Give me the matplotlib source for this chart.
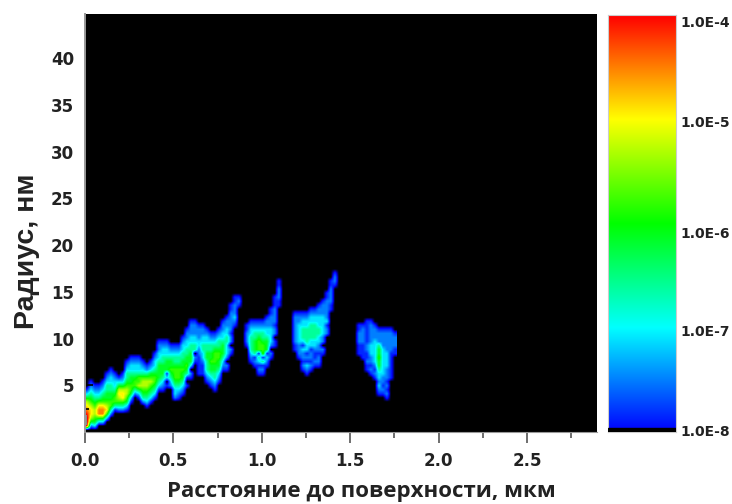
import numpy as np
import matplotlib
matplotlib.use("Agg")
import matplotlib.pyplot as plt
from matplotlib.colors import LinearSegmentedColormap
from matplotlib.ticker import MultipleLocator

plt.rcParams['font.family'] = ['DejaVu Sans']
plt.rcParams['font.weight'] = 'bold'

x_label = "Расстояние до поверхности, мкм"
y_label = "Радиус, нм"
x_ticks = [0.0, 0.5, 1.0, 1.5, 2.0, 2.5]
y_ticks = [5, 10, 15, 20, 25, 30, 35, 40]
bar_labels = ["1.0E-4", "1.0E-5", "1.0E-6", "1.0E-7", "1.0E-8"]
bar_label_logs = [-4.06, -5.02, -6.09, -7.03, -7.99]

# log10 concentration for each level character
level_values = {'1': -7.85, '2': -7.5, '3': -7.1, '4': -6.6, '5': -6.15, '6': -5.8,
                '7': -5.3, '8': -4.95, '9': -4.5, 'A': -4.1, 'B': -3.8}
background = -8.4

# Column-by-column reading of the map: radius cell where a column starts, and levels going down
n_rows = 41
first_row = [30, 28, 29, 29, 28, 26, 25, 26, 27, 26, 23, 22, 22, 22, 23, 24, 23, 21, 18, 18,
             18, 19, 19, 19, 17, 15, 13, 13, 14, 14, 15, 16, 16, 15, 13, 12, 9, 7, 7,
             0,
             14, 13, 13, 13, 13, 12, 10, 7, 3,
             0, 0, 0,
             11, 11, 11, 11, 10, 10, 9, 8, 6, 3, 1,
             0, 0, 0, 0, 0,
             14, 14, 13, 13, 14, 15, 15, 15, 15, 16]
levels = ["135789ABBA", "123456788752", "12345677653", "1234689963",
          "12345689963", "123445567863", "123344556642", "1233456641", "135787642",
          "1235788642", "1234456776531", "123345566531", "1233456642", "12334667531",
          "12346776542", "12467765431", "12356765431", "123345665431", "1223345555431",
          "1233445554321", "1233455513.1", "12345565432", "12344566654332", "12344566654321",
          "123344556554321", "1223344556541.1", "122233445553.21", "12223344.21",
          "1222332211111", "1223344332111", "12334455444321", "12344556554321",
          "123456665544321", "12344566554321", "1223345554321.", "12233443332.21",
          "1122222122.21", "11222321", "121",
          "",
          "112221", "12334444321", "123445554121", "12345666143121", "12344566614121",
          "1223345551321", "1122233332.21", "1112222122.11", "1122211",
          "", "", "",
          "1222222211", "122333332221", "123344431322121", "1233444433121321",
          "1233444433122121", "123344443321121", "1223334433221221", "12223333322.21",
          "11222223122", "11222211", "1221",
          "", "", "", "", "",
          "11222111", "122221111", "1111112211211", "12222233322121",
          "12223333332121", "12224556554332321", "12222333333322121",
          "122222333322212121", "1222221111111", "122211"]

cell_x = 0.02262
cell_y = 0.4283

grid = np.full((n_rows, len(levels)), background)
for col, (start, text) in enumerate(zip(first_row, levels)):
    for k, ch in enumerate(text):
        if ch != '.':
            grid[start + k, col] = level_values[ch]

rainbow = ["#0000ff", "#00ffff", "#00ff00", "#ffff00", "#ff0000"]
bar_cmap = LinearSegmentedColormap.from_list("rb", rainbow, N=512)
map_cmap = LinearSegmentedColormap.from_list(
    "map", [(0, "#000000"), (0.4 / 4.4, "#0000ff"), (1.4 / 4.4, "#00ffff"),
            (2.4 / 4.4, "#00ff00"), (3.4 / 4.4, "#ffff00"), (1, "#ff0000")], N=1024)
map_cmap.set_over("#8a8a8a")

W, H = 732, 504
fig = plt.figure(figsize=(W / 100, H / 100), dpi=100, facecolor="white")
ax = fig.add_axes([85 / W, 1 - 432 / H, (597 - 85) / W, (432 - 14) / H], facecolor="black")
ax.imshow(grid, extent=[0, cell_x * len(levels), 0, cell_y * n_rows], origin="upper",
          aspect="auto", cmap=map_cmap, vmin=-8.4, vmax=-4.0, interpolation="bilinear", zorder=1)
ax.set_xlim(0, 2.896)
ax.set_ylim(0, 44.75)
ax.set_xticks(x_ticks)
ax.set_xticklabels([f"{v:.1f}" for v in x_ticks])
ax.set_yticks(y_ticks)
ax.xaxis.set_minor_locator(MultipleLocator(0.25))
ax.yaxis.set_minor_locator(MultipleLocator(2.5))
ax.tick_params(axis="x", which="major", labelsize=12, length=8, width=1.2, color="#555555",
               pad=6.5, labelcolor="#222222")
ax.tick_params(axis="x", which="minor", length=4, width=1.2, color="#555555")
ax.tick_params(axis="y", which="major", direction="in", labelsize=12, length=6, width=1.2,
               color="black", pad=8, labelcolor="#222222")
ax.tick_params(axis="y", which="minor", direction="in", length=3, width=1.2, color="black")
for s in ax.spines.values():
    s.set_visible(False)
ax.spines["left"].set_visible(True)
ax.spines["left"].set_color("#999999")
ax.spines["left"].set_linewidth(1.4)
ax.spines["bottom"].set_visible(True)
ax.spines["bottom"].set_color("#999999")
fig.text(361 / W, 1 - 491 / H, x_label, fontsize=16, fontweight="bold", color="#222222",
         family="Open Sans", ha="center", va="center")
fig.text(27 / W, 1 - 251 / H, y_label, fontsize=20.5, fontweight="bold", color="#222222",
         family="Liberation Sans", rotation=90, ha="center", va="center")

cax = fig.add_axes([608 / W, 1 - 432 / H, (676 - 608) / W, (432 - 15) / H])
gradient = np.linspace(1, 0, 512)[:, None]
cax.imshow(gradient, extent=[0, 1, -8, -4], aspect="auto", cmap=bar_cmap, vmin=0, vmax=1)
cax.axhspan(-8, -7.965, color="black", zorder=3)
cax.set_xlim(0, 1)
cax.set_ylim(-8, -4)
cax.set_xticks([])
cax.yaxis.tick_right()
cax.set_yticks(bar_label_logs)
cax.set_yticklabels(bar_labels)
cax.tick_params(axis="y", length=0, labelsize=10, pad=3.5, labelcolor="#222222")
for s in cax.spines.values():
    s.set_color("#cccccc")

fig.savefig("out.png", dpi=100)
